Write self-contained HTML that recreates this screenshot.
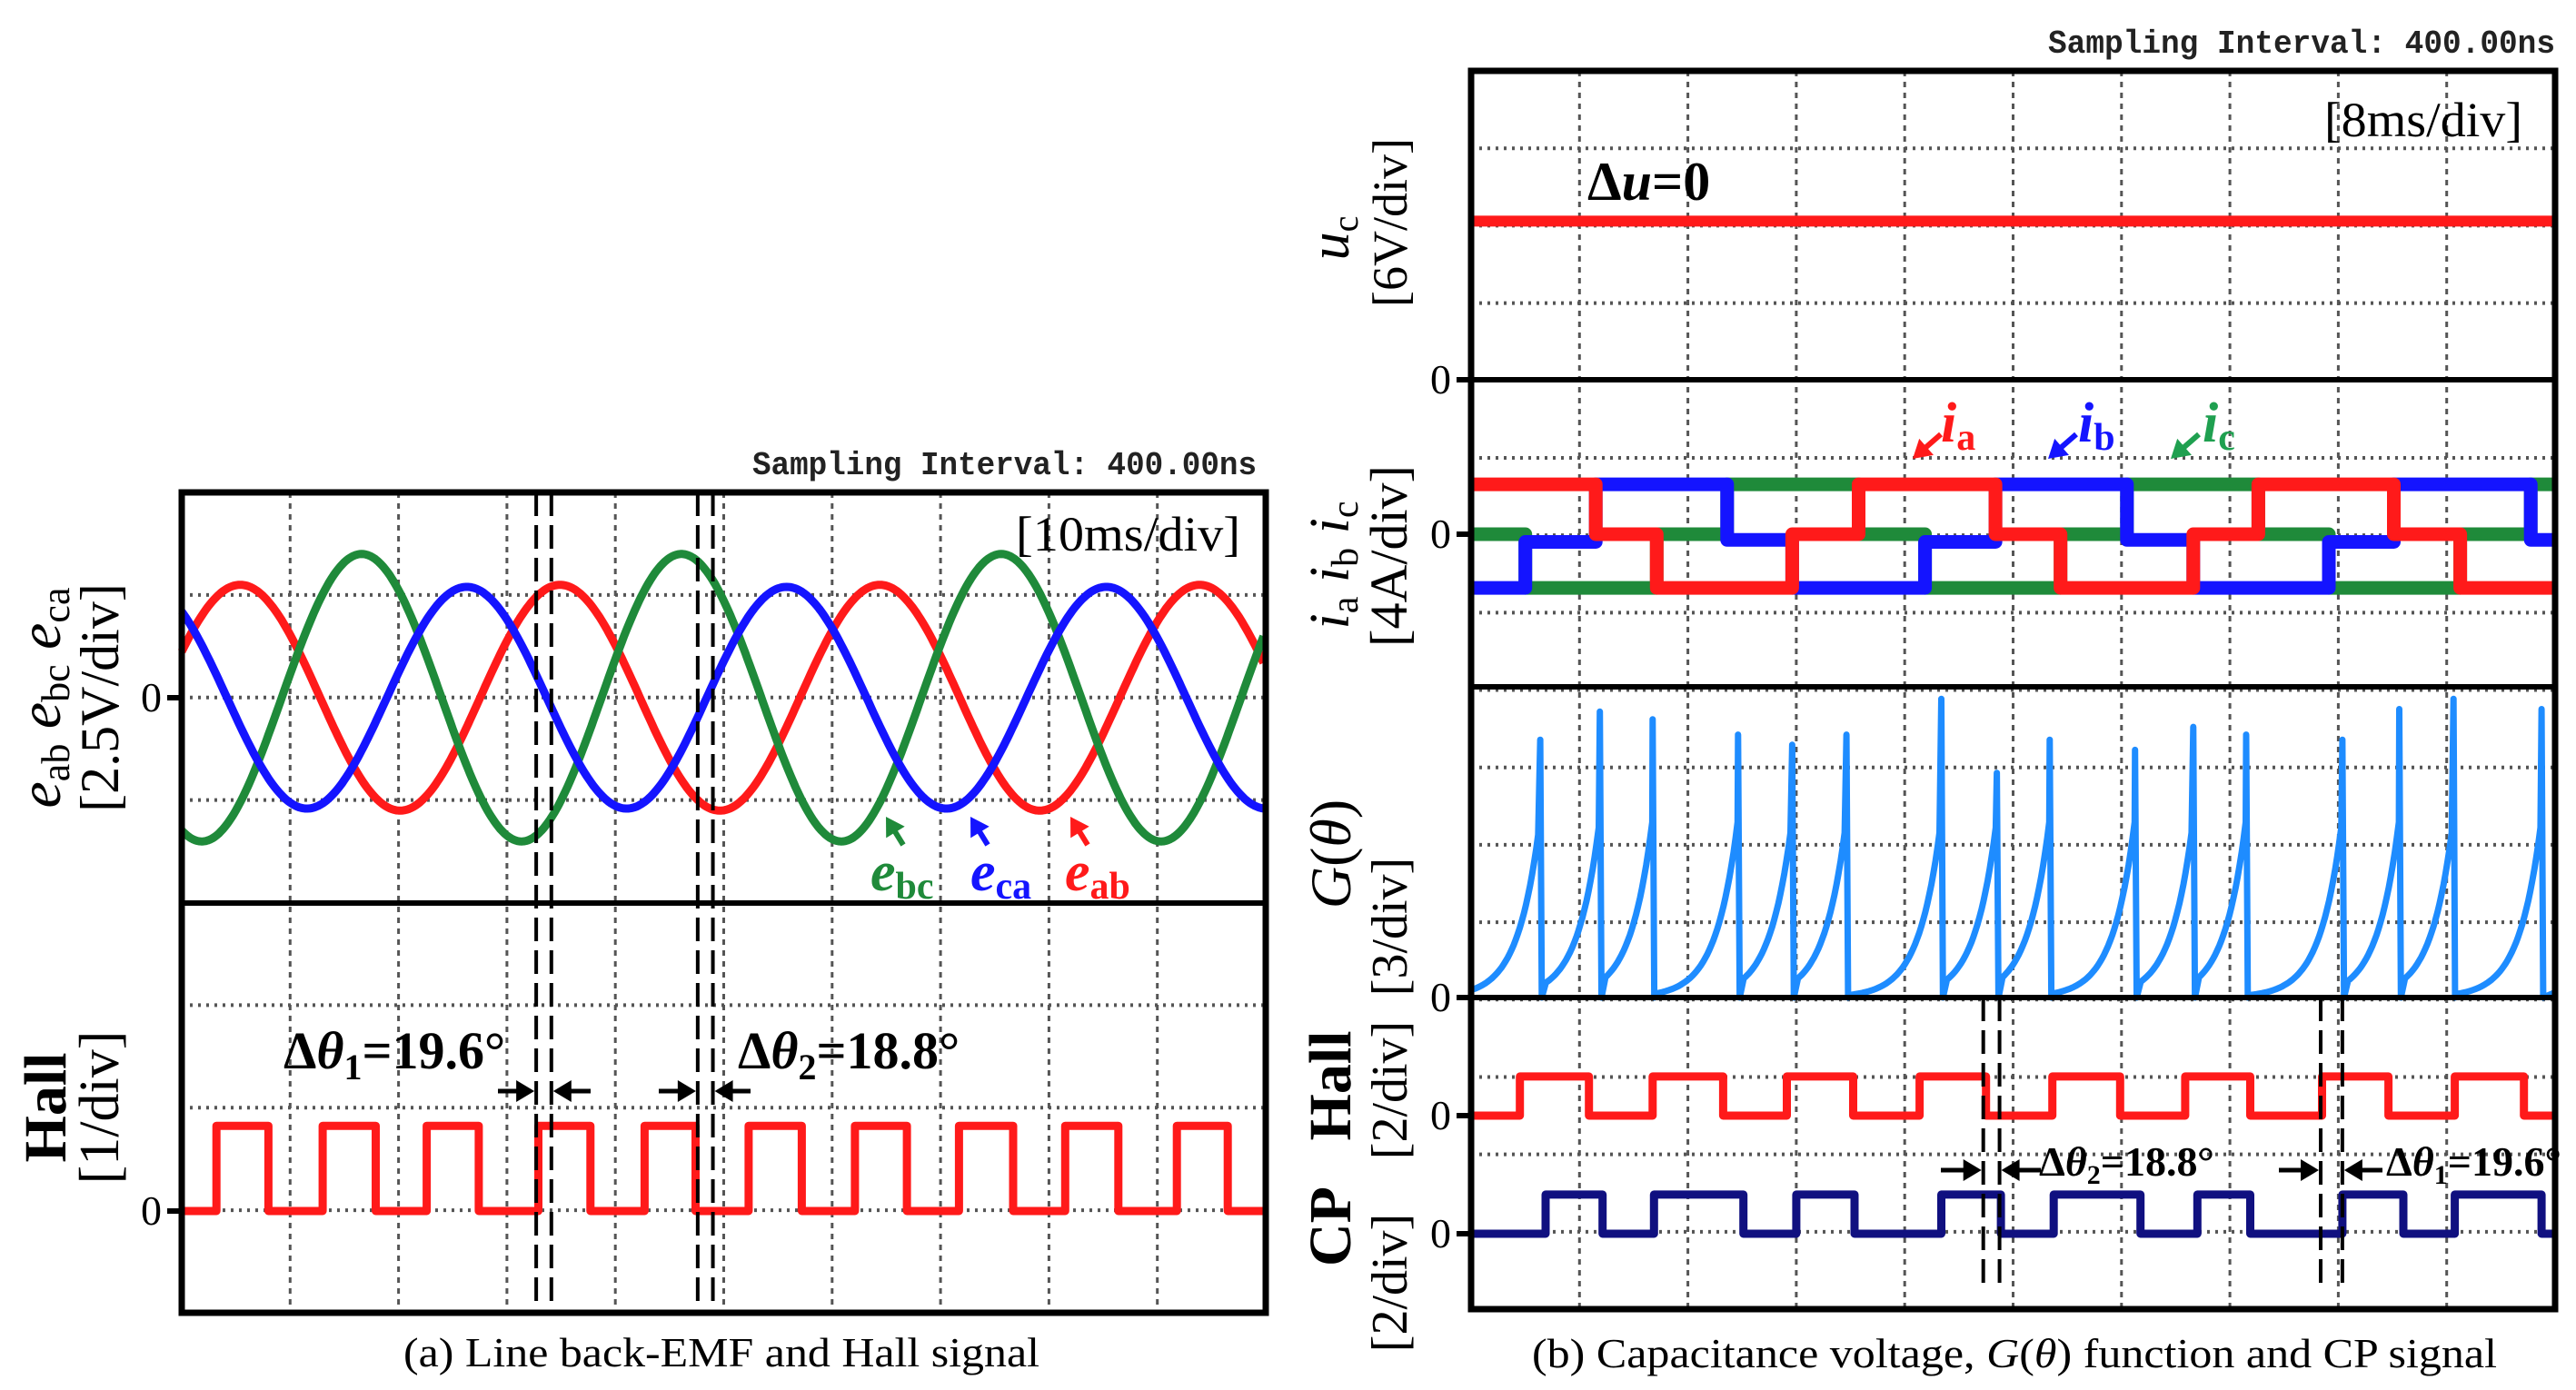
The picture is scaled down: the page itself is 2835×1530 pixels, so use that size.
<!DOCTYPE html>
<html><head><meta charset="utf-8"><style>
html,body{margin:0;padding:0;background:#fff}
svg{display:block}
text{font-family:"Liberation Serif",serif}
.mono{font-family:"Liberation Mono",monospace}
</style></head><body>
<svg id="fig" xmlns="http://www.w3.org/2000/svg" width="2835" height="1530" viewBox="0 0 2835 1530">
<g id="grids"></g>
<g id="traces"></g>
<g id="frames"></g>
<g id="annot">
  <text class="mono" x="828" y="522" font-size="36" font-weight="bold" fill="#222" textLength="555" lengthAdjust="spacingAndGlyphs">Sampling Interval:  400.00ns</text>
  <text class="mono" x="2254" y="58" font-size="36" font-weight="bold" fill="#222" textLength="558" lengthAdjust="spacingAndGlyphs">Sampling Interval:  400.00ns</text>
  <text x="1118" y="606" font-size="54" textLength="247" lengthAdjust="spacingAndGlyphs">[10ms/div]</text>
  <text x="2558" y="150" font-size="54" textLength="218" lengthAdjust="spacingAndGlyphs">[8ms/div]</text>
  <text x="1747" y="220" font-size="60" font-weight="bold">Δ<tspan font-style="italic">u</tspan>=0</text>
  <text x="444" y="1504" font-size="46" textLength="700" lengthAdjust="spacingAndGlyphs">(a) Line back-EMF and Hall signal</text>
  <text x="1686" y="1505" font-size="46" textLength="1062" lengthAdjust="spacingAndGlyphs">(b) Capacitance voltage, <tspan font-style="italic">G</tspan>(<tspan font-style="italic">θ</tspan>) function and CP signal</text>

  <!-- left y labels -->
  <text transform="translate(66,768) rotate(-90)" font-size="66" text-anchor="middle"><tspan font-style="italic">e</tspan><tspan font-size="44" dy="10">ab</tspan><tspan dy="-10"> </tspan><tspan font-style="italic">e</tspan><tspan font-size="44" dy="10">bc</tspan><tspan dy="-10"> </tspan><tspan font-style="italic">e</tspan><tspan font-size="44" dy="10">ca</tspan></text>
  <text transform="translate(130,768) rotate(-90)" font-size="60" text-anchor="middle">[2.5V/div]</text>
  <text transform="translate(72,1219) rotate(-90)" font-size="66" font-weight="bold" text-anchor="middle">Hall</text>
  <text transform="translate(130,1219) rotate(-90)" font-size="62" text-anchor="middle">[1/div]</text>

  <!-- right y labels -->
  <text transform="translate(1484,262) rotate(-90)" font-size="62" font-style="italic" text-anchor="middle">u<tspan font-size="40" font-style="normal" dy="10">c</tspan></text>
  <text transform="translate(1548,245) rotate(-90)" font-size="54" text-anchor="middle">[6V/div]</text>
  <text transform="translate(1484,622) rotate(-90)" font-size="62" text-anchor="middle"><tspan font-style="italic">i</tspan><tspan font-size="42" dy="10">a</tspan><tspan dy="-10"> </tspan><tspan font-style="italic">i</tspan><tspan font-size="42" dy="10">b</tspan><tspan dy="-10"> </tspan><tspan font-style="italic">i</tspan><tspan font-size="42" dy="10">c</tspan></text>
  <text transform="translate(1548,612) rotate(-90)" font-size="58" text-anchor="middle">[4A/div]</text>
  <text transform="translate(1486,940) rotate(-90)" font-size="64" text-anchor="middle"><tspan font-style="italic">G</tspan>(<tspan font-style="italic">θ</tspan>)</text>
  <text transform="translate(1548,1020) rotate(-90)" font-size="56" text-anchor="middle">[3/div]</text>
  <text transform="translate(1486,1195) rotate(-90)" font-size="66" font-weight="bold" text-anchor="middle">Hall</text>
  <text transform="translate(1548,1200) rotate(-90)" font-size="56" text-anchor="middle">[2/div]</text>
  <text transform="translate(1486,1350) rotate(-90)" font-size="66" font-weight="bold" text-anchor="middle">CP</text>
  <text transform="translate(1548,1412) rotate(-90)" font-size="56" text-anchor="middle">[2/div]</text>

  <!-- Delta theta labels -->
  <text x="312" y="1176" font-size="58" font-weight="bold">Δ<tspan font-style="italic">θ</tspan><tspan font-size="40" dy="12">1</tspan><tspan dy="-12">=19.6°</tspan></text>
  <text x="812" y="1176" font-size="58" font-weight="bold">Δ<tspan font-style="italic">θ</tspan><tspan font-size="40" dy="12">2</tspan><tspan dy="-12">=18.8°</tspan></text>
  <text x="2244" y="1294" font-size="46" font-weight="bold">Δ<tspan font-style="italic">θ</tspan><tspan font-size="30" dy="9">2</tspan><tspan dy="-9">=18.8°</tspan></text>
  <text x="2626" y="1294" font-size="46" font-weight="bold">Δ<tspan font-style="italic">θ</tspan><tspan font-size="30" dy="9">1</tspan><tspan dy="-9">=19.6°</tspan></text>

  <!-- trace labels -->
  <text x="958" y="980" font-size="62" font-weight="bold" fill="#1f8a3a" font-style="italic">e<tspan font-size="42" font-style="normal" dy="9">bc</tspan></text>
  <text x="1068" y="980" font-size="62" font-weight="bold" fill="#1414ff" font-style="italic">e<tspan font-size="42" font-style="normal" dy="9">ca</tspan></text>
  <text x="1172" y="980" font-size="62" font-weight="bold" fill="#ff1a1a" font-style="italic">e<tspan font-size="42" font-style="normal" dy="9">ab</tspan></text>
  <text x="2136" y="486" font-size="62" font-weight="bold" fill="#ff1a1a" font-style="italic">i<tspan font-size="42" font-style="normal" dy="9">a</tspan></text>
  <text x="2287" y="486" font-size="62" font-weight="bold" fill="#1414ff" font-style="italic">i<tspan font-size="42" font-style="normal" dy="9">b</tspan></text>
  <text x="2424" y="486" font-size="62" font-weight="bold" fill="#1fa050" font-style="italic">i<tspan font-size="42" font-style="normal" dy="9">c</tspan></text>
</g>
</svg>
<script>
// ---------- data (left panel) ----------
const emfNames = ["eab","ebc","eca"];
const emfPeakMs = [5.4, 16.6, 26.3];
const emfAmpV = [2.75, 3.5, 2.7];
const emfPeriodMs = [29.5, 29.5, 29.5];
const emfColors = ["#ff1a1a","#1f8a3a","#1414ff"];
const hallLeftRiseMs = [3.2,13.0,22.6,32.9,42.7,52.3,62.1,71.7,81.5,91.8];
const hallLeftFallMs = [8.0,17.9,27.4,37.7,47.4,57.2,66.9,76.7,86.4,96.5];
const hallLeftHigh = [0.83];
const leftMarkerMs = [32.7,34.1,47.6,49.0];
// ---------- data (right panel) ----------
const ucLevelV = [12.4];
const segBoundMs = [0,4.0,9.2,13.7,18.9,23.7,28.6,33.5,38.7,43.5,48.4,53.3,58.1,63.3,68.1,73.0,78.2,80];
const iaA = [2.6,2.6,0,-2.8,-2.8,0,2.6,2.6,0,-2.8,-2.8,0,2.6,2.6,0,-2.8,-2.8];
const ibA = [-2.8,-0.4,2.6,2.6,-0.3,-2.8,-2.8,-0.4,2.6,2.6,-0.3,-2.8,-2.8,-0.4,2.6,2.6,-0.3];
const icA = [0,-2.8,-2.8,0,2.6,2.6,0,-2.8,-2.8,0,2.6,2.6,0,-2.8,-2.8,0,2.6];
const gSpikeMs = [5.1,9.5,13.4,19.7,23.7,27.7,34.7,38.8,42.7,49.0,53.3,57.2,64.3,68.5,72.5,79.0];
const gPeak = [10.1,11.2,10.9,10.3,9.9,10.3,11.7,8.8,10.1,9.7,10.6,10.3,10.1,11.3,11.7,11.3];
const hallRightRiseMs = [3.6,13.4,23.3,33.1,42.9,52.7,62.8,72.6];
const hallRightFallMs = [8.7,18.6,28.2,38.0,47.9,57.5,67.7,77.7];
const cpRiseMs = [5.5,13.5,24.0,34.7,43.0,53.6,64.3,72.6];
const cpFallMs = [9.7,20.1,28.3,39.1,49.4,57.5,68.8,79.0];
const digHigh = [1.02];
const rightMarkerMs = [37.8,39.0,62.7,64.3];

const NS="http://www.w3.org/2000/svg";
const G=id=>document.getElementById(id);
function mk(tag,attrs,parent){const e=document.createElementNS(NS,tag);for(const k in attrs)e.setAttribute(k,attrs[k]);parent.appendChild(e);return e;}

const L={x0:200,x1:1393,top:542,mid:994,bot:1445,msMax:100};
const R={x0:1619,x1:2812,ys:[78,418,756,1098,1441],msMax:80};
const xL=ms=>L.x0+ms/L.msMax*(L.x1-L.x0);
const xR=ms=>R.x0+ms/R.msMax*(R.x1-R.x0);
const yEmf=v=>768-v/2.5*113;
const yHallL=v=>1333-v*113;
const yUc=v=>418-v/6*84.5;
const yI=a=>588-a/4*84.5;
const yG=v=>1098-v/3*84.3;
const yHallR=v=>1228-v/2*84.5;
const yCP=v=>1358-v/2*84.5;

const grids=G('grids');
function grid(x0,x1,y0,y1,nx,ny){
  for(let i=1;i<nx;i++){const x=x0+(x1-x0)*i/nx;
    const l=mk('line',{x1:x,x2:x,y1:y0,y2:y1,stroke:'#555','stroke-width':3,'stroke-dasharray':'6 6'},grids);
    
    }
  for(let j=1;j<ny;j++){const y=y0+(y1-y0)*j/ny;
    const l=mk('line',{x1:x0,x2:x1,y1:y,y2:y,stroke:'#555','stroke-width':4,'stroke-dasharray':'3 6'},grids);
    
    }
}
grid(L.x0,L.x1,L.top,L.bot,10,8);
grid(R.x0,R.x1,R.ys[0],R.ys[4],10,16);

const tr=G('traces');
function path(pts,color,w,name){
  const d='M'+pts.map(p=>p[0].toFixed(1)+','+p[1].toFixed(1)).join('L');
  const p=mk('path',{d:d,fill:'none',stroke:color,'stroke-width':w,'stroke-linejoin':'round'},tr);
  
  
  return p;
}
emfNames.forEach((n,k)=>{
  const pts=[];
  for(let ms=0;ms<=L.msMax;ms+=0.2){
    const v=emfAmpV[k]*Math.cos(2*Math.PI*(ms-emfPeakMs[k])/emfPeriodMs[k]);
    pts.push([xL(ms),yEmf(v)]);
  }
  path(pts,emfColors[k],9,'trace-'+n);
});
function square(rise,fall,high,xf,yf,msMax,color,name,w){
  const pts=[[xf(0),yf(0)]];
  for(let i=0;i<rise.length;i++){
    if(rise[i]>msMax)break;
    pts.push([xf(rise[i]),yf(0)],[xf(rise[i]),yf(high)]);
    const f=Math.min(fall[i],msMax);
    pts.push([xf(f),yf(high)]);
    if(fall[i]<=msMax)pts.push([xf(f),yf(0)]);
  }
  const last=pts[pts.length-1];
  pts.push([xf(msMax),last[1]]);
  path(pts,color,w,name);
}
square(hallLeftRiseMs,hallLeftFallMs,hallLeftHigh[0],xL,yHallL,L.msMax,'#ff1a1a','trace-hall-left',9);
path([[xR(0),yUc(ucLevelV[0])],[xR(R.msMax),yUc(ucLevelV[0])]],'#ff1a1a',12,'trace-uc');
function stepTrace(vals,color,name){
  const pts=[];
  for(let i=0;i<vals.length;i++){pts.push([xR(segBoundMs[i]),yI(vals[i])],[xR(segBoundMs[i+1]),yI(vals[i])]);}
  path(pts,color,15,name);
}
stepTrace(icA,'#1f8a3a','trace-ic');
stepTrace(ibA,'#1414ff','trace-ib');
stepTrace(iaA,'#ff1a1a','trace-ia');
(function(){
  const pts=[[xR(0),yG(0.3)]];let prev=0;
  for(let i=0;i<gSpikeMs.length;i++){
    const ts=gSpikeMs[i];
    for(let t=prev+0.3;t<ts;t+=0.15){pts.push([xR(t),yG(7*Math.exp(-(ts-t)/1.6))]);}
    pts.push([xR(ts),yG(gPeak[i])],[xR(ts+0.12),yG(0)]);
    prev=ts+0.12;
  }
  pts.push([xR(R.msMax),yG(0.2)]);
  path(pts,'#1e8cff',7,'trace-g-theta');
})();
square(hallRightRiseMs,hallRightFallMs,digHigh[0],xR,yHallR,R.msMax,'#ff1a1a','trace-hall-right',9);
square(cpRiseMs,cpFallMs,digHigh[0],xR,yCP,R.msMax,'#101080','trace-cp',9);

const fr=G('frames');
function rect(x,y,w,h,name){const r=mk('rect',{x:x,y:y,width:w,height:h,fill:'none',stroke:'#000','stroke-width':7},fr);
  }
rect(L.x0,L.top,L.x1-L.x0,L.bot-L.top,'left-panel-frame');
let sep=mk('line',{x1:L.x0,x2:L.x1,y1:L.mid,y2:L.mid,stroke:'#000','stroke-width':6},fr);


rect(R.x0,R.ys[0],R.x1-R.x0,R.ys[4]-R.ys[0],'right-panel-frame');
for(let i=1;i<4;i++){const s=mk('line',{x1:R.x0,x2:R.x1,y1:R.ys[i],y2:R.ys[i],stroke:'#000','stroke-width':6},fr);
  
  }
function zero(x,y,name){
  const l=mk('line',{x1:x-16,x2:x,y1:y,y2:y,stroke:'#000','stroke-width':6},fr);
  
  
  const t=mk('text',{x:x-22,y:y+15,'font-size':46,'text-anchor':'end'},fr);t.textContent='0';
  
  
}
zero(L.x0,yEmf(0),'emf-zero');zero(L.x0,yHallL(0),'hall-left-zero');
zero(R.x0,418,'uc-zero');zero(R.x0,yI(0),'current-zero');zero(R.x0,yG(0),'g-zero');
zero(R.x0,yHallR(0),'hall-right-zero');zero(R.x0,yCP(0),'cp-zero');
function marker(x,y0,y1){const l=mk('line',{x1:x,x2:x,y1:y0,y2:y1,stroke:'#000','stroke-width':4,'stroke-dasharray':'26 10'},fr);
  
  }
leftMarkerMs.forEach(m=>marker(xL(m),L.top,L.bot));
rightMarkerMs.forEach(m=>marker(xR(m),R.ys[3],1415));
function arrow(x1,y1,x2,y2,color,w,name){
  const a=Math.atan2(y2-y1,x2-x1),h=20;
  const l=mk('line',{x1:x1,y1:y1,x2:x2-Math.cos(a)*h*0.8,y2:y2-Math.sin(a)*h*0.8,stroke:color,'stroke-width':w},fr);
  
  
  const p=mk('polygon',{points:[x2,y2,x2-h*Math.cos(a)+h*0.6*Math.sin(a),y2-h*Math.sin(a)-h*0.6*Math.cos(a),x2-h*Math.cos(a)-h*0.6*Math.sin(a),y2-h*Math.sin(a)+h*0.6*Math.cos(a)].join(','),fill:color},fr);
  
  
}
arrow(548,1201,xL(leftMarkerMs[0])-2,1201,'#000',5,'arrow-dtheta1-left-a');
arrow(650,1201,xL(leftMarkerMs[1])+2,1201,'#000',5,'arrow-dtheta1-left-b');
arrow(725,1201,xL(leftMarkerMs[2])-2,1201,'#000',5,'arrow-dtheta2-left-a');
arrow(826,1201,xL(leftMarkerMs[3])+2,1201,'#000',5,'arrow-dtheta2-left-b');
arrow(2136,1288,xR(rightMarkerMs[0])-2,1288,'#000',5,'arrow-dtheta2-right-a');
arrow(2246,1288,xR(rightMarkerMs[1])+2,1288,'#000',5,'arrow-dtheta2-right-b');
arrow(2508,1288,xR(rightMarkerMs[2])-2,1288,'#000',5,'arrow-dtheta1-right-a');
arrow(2622,1288,xR(rightMarkerMs[3])+2,1288,'#000',5,'arrow-dtheta1-right-b');
arrow(994,930,975,899,'#1f8a3a',6,'arrow-ebc');
arrow(1087,930,1068,899,'#1414ff',6,'arrow-eca');
arrow(1197,930,1178,899,'#ff1a1a',6,'arrow-eab');
arrow(2136,478,2105,505,'#ff1a1a',6,'arrow-ia');
arrow(2285,478,2254,505,'#1414ff',6,'arrow-ib');
arrow(2420,478,2389,505,'#1fa050',6,'arrow-ic');
</script>
</body></html>
